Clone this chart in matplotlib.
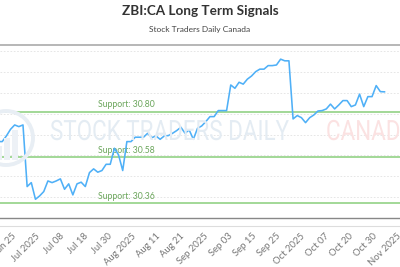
import numpy as np
import matplotlib.pyplot as plt
from matplotlib.lines import Line2D
from matplotlib.patches import Circle, Rectangle, PathPatch
from matplotlib.textpath import TextPath
from matplotlib.font_manager import FontProperties
from matplotlib.transforms import Affine2D

# daily closes (one per trading day)
prices = [30.656, 30.656, 30.683, 30.715, 30.736, 30.728, 30.736, 30.440, 30.459, 30.379,
          30.395, 30.416, 30.467, 30.459, 30.467, 30.477, 30.427, 30.453, 30.400, 30.453,
          30.461, 30.440, 30.507, 30.525, 30.509, 30.517, 30.547, 30.547, 30.624, 30.592,
          30.517, 30.656, 30.656, 30.677, 30.677, 30.677, 30.696, 30.675, 30.683, 30.667,
          30.683, 30.685, 30.696, 30.709, 30.725, 30.696, 30.712, 30.667, 30.720, 30.731,
          30.752, 30.776, 30.776, 30.805, 30.805, 30.805, 30.928, 30.912, 30.941, 30.932,
          30.956, 30.971, 30.992, 31.004, 31.004, 31.021, 31.021, 31.024, 31.052, 31.044,
          31.044, 30.765, 30.781, 30.771, 30.747, 30.771, 30.784, 30.803, 30.805, 30.813,
          30.836, 30.813, 30.832, 30.853, 30.853, 30.824, 30.832, 30.884, 30.824, 30.872,
          30.872, 30.925, 30.896, 30.895]

supports = [30.80, 30.58, 30.36]

tick_labels = ['Jun 25', 'Jul 2025', 'Jul 08', 'Jul 18', 'Jul 30', 'Aug 2025', 'Aug 11',
               'Aug 21', 'Sep 2025', 'Sep 03', 'Sep 15', 'Sep 25', 'Oct 2025', 'Oct 07',
               'Oct 20', 'Oct 30', 'Nov 2025']

plt.rcParams['font.family'] = ['Lato', 'DejaVu Sans']

fig = plt.figure(figsize=(4, 2.67), dpi=100)
ax = fig.add_axes([0, 49 / 267, 1, 173 / 267])

x = np.arange(len(prices))
ax.plot(x, prices, color='#4fb0f7', lw=1.15, zorder=5)

ax.set_xlim(0.469, 92.85)
ax.set_ylim(30.289, 31.12)

# support lines
for s in supports:
    ax.axhline(s, color='#9bd68f', lw=1.3, zorder=3)
    ax.text(24.0, s + 0.011, 'Support: %.2f' % s, color='#6aa55a', fontsize=6.2,
            va='bottom', ha='left', zorder=4)

# grid
ax.set_yticks(np.arange(30.39, 31.1, 0.1))
ax.yaxis.grid(True, color='#e2e2e2', lw=0.6, ls=(0, (2, 2)))
ax.tick_params(axis='y', left=False, labelleft=False)

tick_pos = 3.93 + 5.8 * np.arange(len(tick_labels))
ax.set_xticks(tick_pos)
ax.set_xticklabels(tick_labels, rotation=45, ha='right', va='center',
                   rotation_mode='anchor', fontsize=6.8, color='#777777')
ax.tick_params(axis='x', length=0, pad=12)

for side in ['left', 'right']:
    ax.spines[side].set_visible(False)
ax.spines['top'].set_color('#aaaaaa')
ax.spines['top'].set_linewidth(1.2)
ax.spines['bottom'].set_color('#888888')
ax.spines['bottom'].set_linewidth(1.0)
fig.add_artist(Line2D([0, 1], [1 - 226 / 267] * 2, color='#dddddd', lw=0.8))

# watermark, condensed by squeezing the glyph outlines (pixel coordinates)
wm_font = FontProperties(family='Roboto')
for word, x0, col in [('STOCK TRADERS DAILY', 50, '#e4ecf3'), ('CANADA', 326, '#fbe2e2')]:
    tp = TextPath((0, 0), word, size=28, prop=wm_font)
    patch = PathPatch(tp, fc=col, ec='none', zorder=1,
                      transform=Affine2D().scale(0.80, 1).translate(x0, 267 - 140))
    fig.add_artist(patch)

fig.add_artist(Circle((6, 267 - 138), 27, transform=Affine2D(), fill=False,
                      ec='#e8eef4', lw=2.8, zorder=1))
for bx, bh in [(-4, 14), (4, 22), (12, 30)]:
    fig.add_artist(Rectangle((bx, 267 - 160), 6, bh, transform=Affine2D(),
                             fc='#edf1f6', ec='none', zorder=1))

fig.text(0.5, 1 - 11 / 267, 'ZBI:CA Long Term Signals', ha='center', va='center',
         fontsize=9.7, fontweight='bold', color='#333333')
fig.text(0.5, 1 - 29.5 / 267, 'Stock Traders Daily Canada', ha='center', va='center',
         fontsize=6, color='#444444')

fig.savefig('out.png', dpi=100)
